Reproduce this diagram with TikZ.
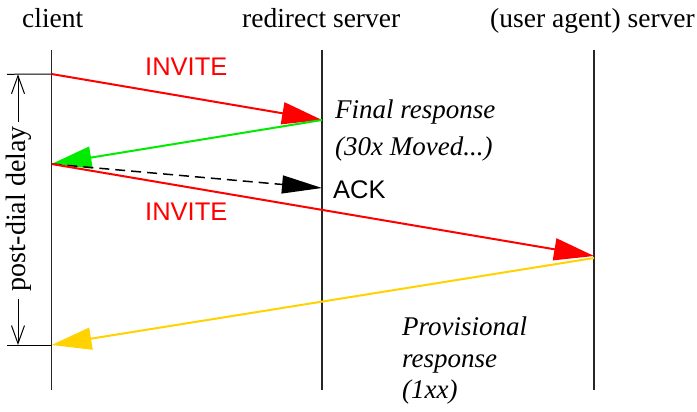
\documentclass[tikz,border=0pt]{standalone}
\usepackage{fontspec}
\setmainfont{Liberation Serif}
\newfontfamily\sansf{Liberation Sans}
\usetikzlibrary{arrows.meta}
\definecolor{mygreen}{RGB}{0,235,0}
\definecolor{mygold}{RGB}{255,210,0}
\begin{document}
\begin{tikzpicture}[x=1pt,y=-1pt,
  lifeline/.style={line width=1.2pt,black!85},
  msg/.style={line width=2pt,-{Triangle[length=40pt,width=22pt]}},
  lbl/.style={inner sep=0pt,anchor=base west,font=\fontsize{27.5}{30}\selectfont},
  slbl/.style={lbl,font=\fontsize{25.5}{30}\selectfont\sansf},
  ilbl/.style={lbl,font=\fontsize{27}{30}\selectfont\itshape},
  tick/.style={line width=1pt,black},
  delay/.style={line width=1pt,black,-{Straight Barb[length=18pt,width=13pt]}}]
\useasboundingbox (0,0) rectangle (697,412);
% lifelines
\coordinate (c0) at (51.5,50); \coordinate (c1) at (51.5,390);
\coordinate (r0) at (322,50); \coordinate (r1) at (322,390);
\coordinate (u0) at (594,50); \coordinate (u1) at (594,390);
\draw[lifeline] (c0) -- (c1);
\draw[lifeline] (r0) -- (r1);
\draw[lifeline] (u0) -- (u1);
% event points
\coordinate (a) at (51.5,74);
\coordinate (b) at (322,120);
\coordinate (c) at (51.5,164);
\coordinate (d) at (322,188);
\coordinate (e) at (594,256);
\coordinate (e2) at (594,258);
\coordinate (f) at (51.5,345);
% ticks for delay
\coordinate (t0) at (7,74.3); \coordinate (t1) at (7,345);
\draw[tick] (t0) -- (a);
\draw[tick] (t1) -- (f);
% delay arrows and label
\node[inner sep=0pt,rotate=90,font=\fontsize{28}{30}\selectfont] (pdd) at (19,209) {post-dial delay};
\coordinate (da) at (18,74.3); \coordinate (db) at (18,345);
\coordinate (pa) at (18,122); \coordinate (pb) at (18,299);
\draw[delay] (pa) -- (da);
\draw[delay] (pb) -- (db);
% messages
\draw[msg,red] (a) -- (b);
\draw[msg,mygreen] (b) -- (c);
\draw[msg,black,line width=1.5pt,dash pattern=on 10pt off 6pt,-{Triangle[length=40pt,width=18pt]}] (c) -- (d);
\draw[msg,red] (c) -- (e);
\draw[msg,mygold] (e2) -- (f);
% labels
\node[lbl] (lc) at (22,28) {client};
\node[lbl] (lr) at (242,28) {redirect server};
\node[lbl] (lu) at (490,28) {(user agent) server};
\node[slbl,text=red] (inv1) at (145,75.5) {INVITE};
\node[slbl,text=red] (inv2) at (145,220.5) {INVITE};
\node[slbl] (ack) at (333,198) {ACK};
\node[ilbl] (fr1) at (335,118) {Final response};
\node[ilbl] (fr2) at (335,155) {(30x Moved...)};
\node[ilbl] (pr1) at (402,335) {Provisional};
\node[ilbl] (pr2) at (402,367) {response};
\node[ilbl] (pr3) at (402,398) {(1xx)};
\end{tikzpicture}
\end{document}
